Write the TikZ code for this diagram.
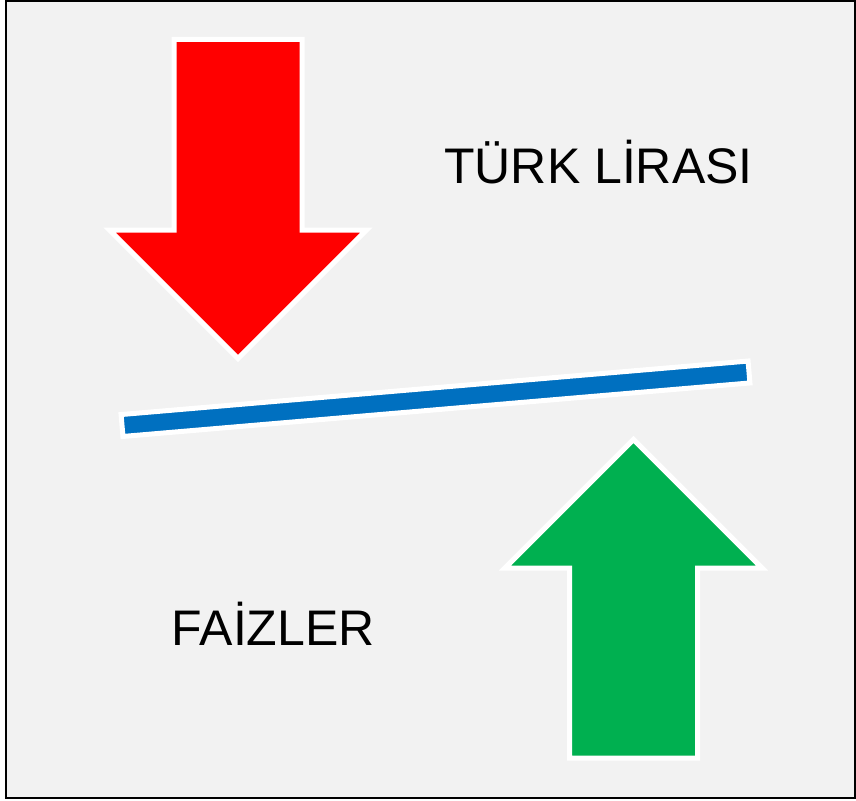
\documentclass[tikz,border=0pt]{standalone}
\usepackage{fontspec}
\setmainfont{Liberation Sans}
\usepackage{xcolor}
\usepackage{tikz}
\definecolor{bgGray}{HTML}{F2F2F2}
\definecolor{arrowRed}{HTML}{FF0000}
\definecolor{arrowGreen}{HTML}{00B050}
\definecolor{barBlue}{HTML}{0070C0}

\begin{document}
\begin{tikzpicture}[x=1pt, y=-1pt,
    outlined/.style={draw=white, line width=5pt},
    bigtext/.style={inner sep=0pt, anchor=base, font=\fontsize{50}{60}\selectfont}]
    \useasboundingbox (0,0) rectangle (856,800);
    %frame
    \draw[line width=2pt, fill=bgGray] (6,1) rectangle (855,798);

    %down arrow
    \filldraw[outlined, fill=arrowRed] (174,39.5) -- (302,39.5) -- (302,230) -- (366.5,230)
        -- (238,358.5) -- (109.5,230) -- (174,230) -- cycle;

    %up arrow
    \filldraw[outlined, fill=arrowGreen] (569.5,758) -- (697.5,758) -- (697.5,568) -- (762,568)
        -- (633.5,439.5) -- (505,568) -- (569.5,568) -- cycle;

    %bar
    \filldraw[outlined, fill=barBlue] (121.07,414.54) -- (748.07,361.04)
        -- (749.94,382.96) -- (122.94,436.46) -- cycle;

    %labels
    \node[bigtext] (lira) at (598.5,183.3) {TÜRK LİRASI};
    \node[bigtext] (faiz) at (273.3,645.7) {FAİZLER};
\end{tikzpicture}
\end{document}
